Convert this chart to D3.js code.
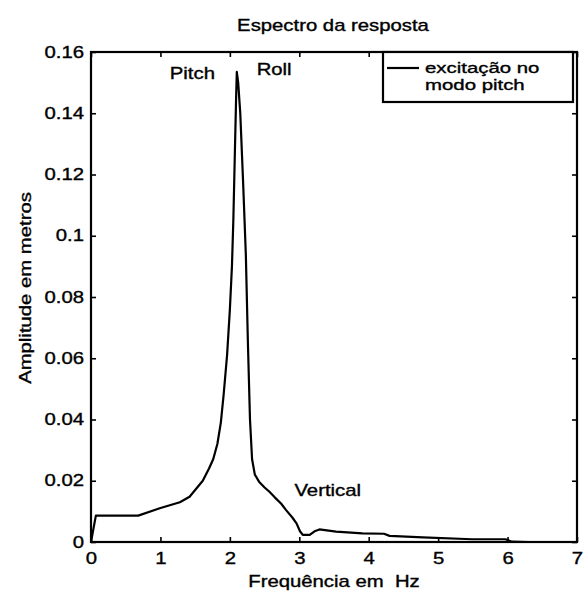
<!DOCTYPE html>
<html><head><meta charset="utf-8">
<script src="https://cdn.jsdelivr.net/npm/d3@7"></script>
<style>
body{margin:0;background:#fff;}
text{font-family:"Liberation Sans",Arial,sans-serif;fill:#000;stroke:#000;stroke-width:0.35px;}
</style></head>
<body><svg id="c" width="583" height="595"></svg>
<script>
const freq = [0, 0.07, 0.68, 0.99, 1.28, 1.42, 1.61, 1.70, 1.76, 1.82, 1.87, 1.91, 1.96, 2.00, 2.03, 2.05, 2.07, 2.09, 2.10, 2.12, 2.15, 2.19, 2.23, 2.26, 2.29, 2.32, 2.36, 2.42, 2.50, 2.57, 2.65, 2.74, 2.81, 2.90, 2.96, 3.01, 3.05, 3.15, 3.22, 3.29, 3.53, 3.91, 4.22, 4.30, 4.78, 5.49, 5.97, 6.06, 6.3];
const amp  = [0, 0.0086, 0.0086, 0.011, 0.013, 0.0148, 0.020, 0.024, 0.027, 0.032, 0.039, 0.048, 0.061, 0.0758, 0.090, 0.105, 0.125, 0.145, 0.1535, 0.150, 0.140, 0.118, 0.094, 0.065, 0.040, 0.027, 0.022, 0.0197, 0.0178, 0.0164, 0.0145, 0.0125, 0.0104, 0.0080, 0.0061, 0.0035, 0.0023, 0.0023, 0.0035, 0.0041, 0.0034, 0.0028, 0.0027, 0.0020, 0.0015, 0.0009, 0.0009, 0.0001, 0];
const xTicks = [0, 1, 2, 3, 4, 5, 6, 7];
const yTicks = [0, 0.02, 0.04, 0.06, 0.08, 0.1, 0.12, 0.14, 0.16];
const labels = ["Pitch", "Roll", "Vertical"];
const labelX = [1.135, 2.386, 2.93];
const labelY = [0.1512, 0.1525, 0.0150];
const title = "Espectro da resposta";
const xTitle = "Frequência em  Hz";
const yTitle = "Amplitude em metros";
const legendLines = ["excitação no", "modo pitch"];

const svg = d3.select("#c");
const L = 91, R = 577, T = 52, B = 542;
const x = d3.scaleLinear().domain([0, 7]).range([L, R]);
const y = d3.scaleLinear().domain([0, 0.16]).range([B, T]);
const fs = 16, SX = 1.27;

function addText(px, py, str, anchor, rot, size, sx) {
  return svg.append("text")
    .attr("transform", `translate(${px},${py}) rotate(${rot || 0}) scale(${sx || SX},1)`)
    .attr("text-anchor", anchor || "start").attr("font-size", size || fs)
    .style("white-space", "pre").text(str);
}

const ax = (g, axis) => g.call(axis).call(s => s.select(".domain").remove());
const gx = svg.append("g").attr("transform", `translate(0,${B})`)
  .call(g => ax(g, d3.axisBottom(x).tickValues(xTicks).tickSize(-5).tickPadding(11).tickFormat(d3.format("d"))));
svg.append("g").attr("transform", `translate(0,${T})`)
  .call(g => ax(g, d3.axisTop(x).tickValues(xTicks).tickSize(-5).tickFormat("")));
const gy = svg.append("g").attr("transform", `translate(${L},0)`)
  .call(g => ax(g, d3.axisLeft(y).tickValues(yTicks).tickSize(-5).tickPadding(7).tickFormat(d => d === 0 ? "0" : String(+d.toFixed(2)))));
svg.append("g").attr("transform", `translate(${R},0)`)
  .call(g => ax(g, d3.axisRight(y).tickValues(yTicks).tickSize(-5).tickFormat("")));
svg.selectAll(".tick line").attr("stroke", "#000").attr("stroke-width", 1.6);
svg.selectAll(".tick text").attr("font-size", fs).attr("font-family", "Liberation Sans, Arial, sans-serif").attr("fill", "#000");
gx.selectAll(".tick text").attr("transform", `scale(${SX},1)`);
gy.selectAll(".tick text").attr("transform", `scale(${SX},1)`).attr("x", -7 / SX);

svg.append("rect").attr("x", L).attr("y", T).attr("width", R - L).attr("height", B - T)
  .attr("fill", "none").attr("stroke", "#000").attr("stroke-width", 2.2);

const line = d3.line().x((d, i) => x(freq[i])).y((d, i) => y(amp[i]));
svg.append("path").attr("d", line(freq)).attr("fill", "none").attr("stroke", "#000")
  .attr("stroke-width", 2.2).attr("stroke-linejoin", "round");

labels.forEach((t, i) => addText(x(labelX[i]), y(labelY[i]), t));

addText(333, 31, title, "middle");
addText(334, 587, xTitle, "middle");
addText(31, 288, yTitle, "middle", -90);

// legend
const LX = 383;
svg.append("rect").attr("x", LX).attr("y", T).attr("width", R - 4 - LX).attr("height", 50)
  .attr("fill", "#fff").attr("stroke", "#000").attr("stroke-width", 2.2);
svg.append("line").attr("x1", 387).attr("x2", 419).attr("y1", 68).attr("y2", 68)
  .attr("stroke", "#000").attr("stroke-width", 2.2);
legendLines.forEach((t, i) => addText(425, 73 + i * 17, t, "start", 0, 15, 1.36));
</script></body></html>
